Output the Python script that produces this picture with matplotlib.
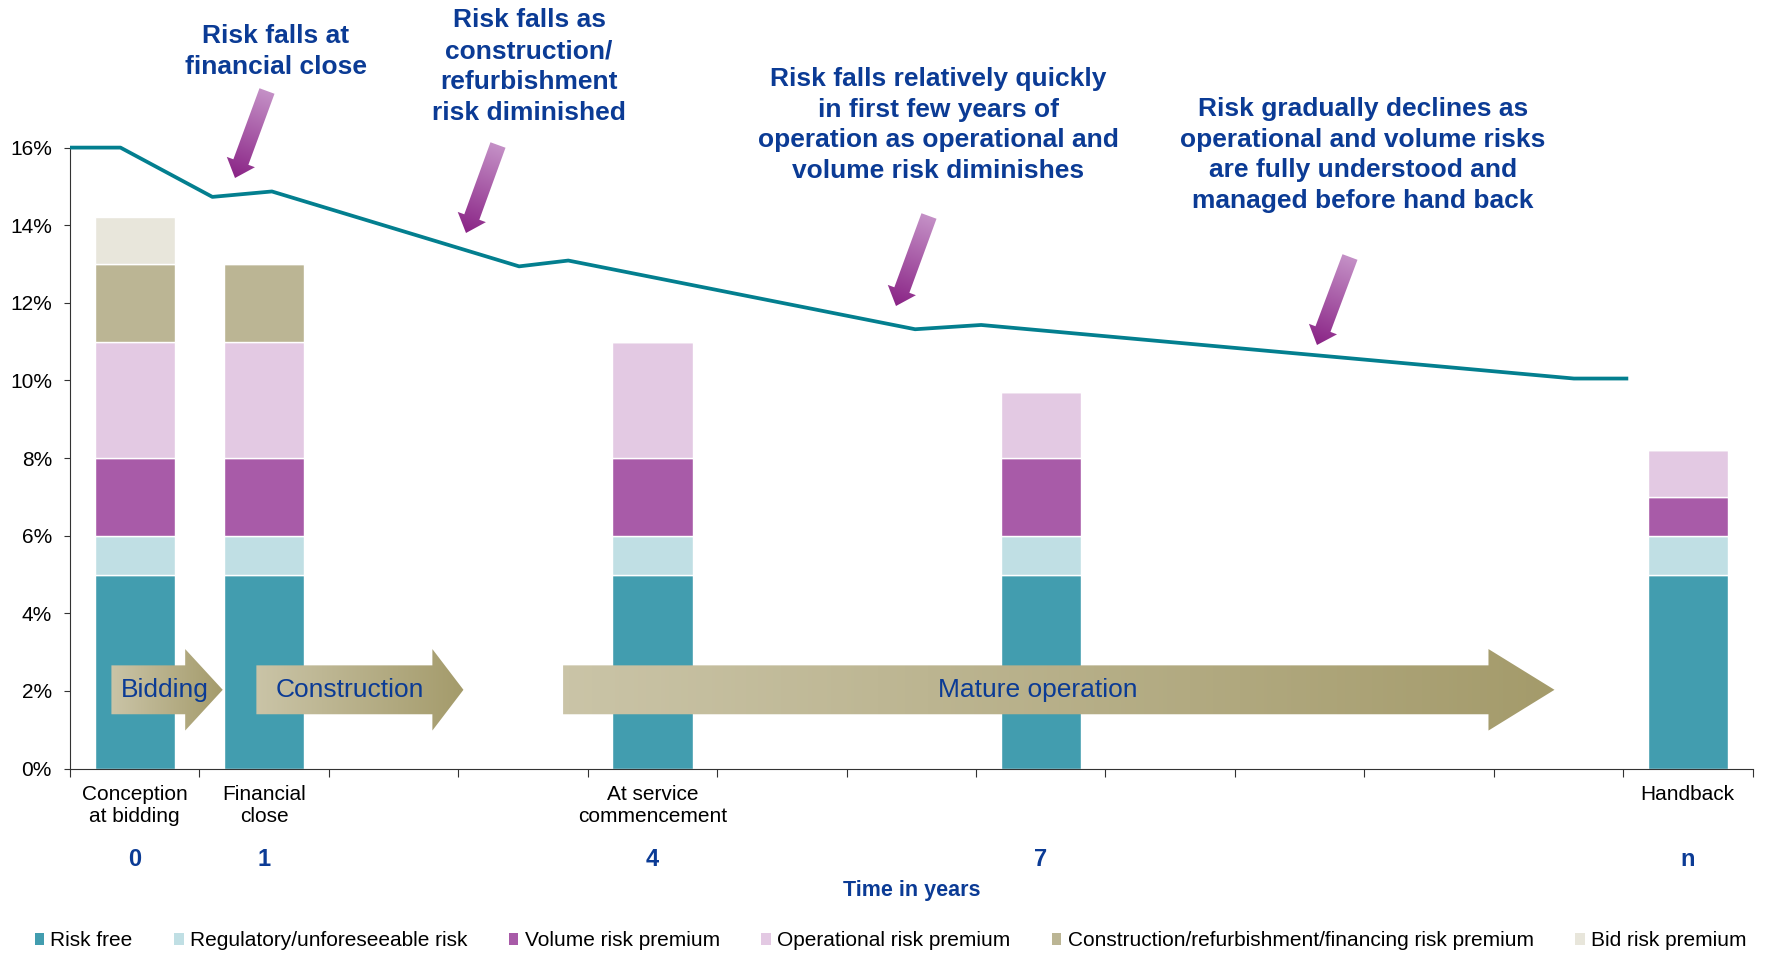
import numpy as np
import matplotlib.pyplot as plt
from matplotlib.patches import FancyArrow, Polygon, Patch
from matplotlib.colors import LinearSegmentedColormap

plt.rcParams['font.family'] = ['Liberation Sans', 'DejaVu Sans']

# Stacked components of the required return at selected points in time
bar_pos = [0, 1, 4, 7, 12]
risk_free = [5, 5, 5, 5, 5]
regulatory = [1, 1, 1, 1, 1]
volume = [2, 2, 2, 2, 1]
operational = [3, 3, 3, 1.7, 1.2]
construction = [2, 2, 0, 0, 0]
bid = [1.2, 0, 0, 0, 0]

series = [risk_free, regulatory, volume, operational, construction, bid]
series_names = ['Risk free', 'Regulatory/unforeseeable risk', 'Volume risk premium',
                'Operational risk premium', 'Construction/refurbishment/financing risk premium',
                'Bid risk premium']
series_colors = ['#429DAF', '#C0DFE4', '#A85BA8', '#E3C9E3', '#BBB594', '#E8E6DB']

cat_labels = ['Conception\nat bidding', 'Financial\nclose', 'At service\ncommencement', '', 'Handback']
year_labels = ['0', '1', '4', '7', 'n']

# Overall required return over the project life
line_x = [-0.5, -0.11, 0.6, 1.06, 2.97, 3.35, 6.03, 6.54, 11.12, 11.54]
line_y = [16, 16, 14.73, 14.87, 12.94, 13.09, 11.32, 11.43, 10.05, 10.05]

# Project phases
phase_names = ['Bidding', 'Construction', 'Mature operation']
phase_start = [-0.18, 0.94, 3.31]
phase_body_end = [0.39, 2.30, 10.46]
phase_tip = [0.68, 2.54, 10.97]
phase_text_x = [0.23, 1.66, 6.98]

notes = ['Risk falls at\nfinancial close',
         'Risk falls as\nconstruction/\nrefurbishment\nrisk diminished',
         'Risk falls relatively quickly\nin first few years of\noperation as operational and\nvolume risk diminishes',
         'Risk gradually declines as\noperational and volume risks\nare fully understood and\nmanaged before hand back']
note_xy = [(276, 51.5), (529, 66.5), (938, 125), (1363, 155)]
note_arrows = [((267, 91), (235, 178)), ((498, 145), (466, 233)),
               ((929, 216), (896, 306)), ((1350, 257), (1317, 345))]

blue = '#0B3B95'
W, H = 1767, 956
fig = plt.figure(figsize=(W / 100, H / 100), dpi=100)
ax = fig.add_axes([70 / W, 1 - 768.6 / H, (1752.5 - 70) / W, (768.6 - 147.6) / H])

bottom = np.zeros(len(bar_pos))
for vals, name, col in zip(series, series_names, series_colors):
    ax.bar(bar_pos, vals, bottom=bottom, width=0.62, color=col, edgecolor='white',
           linewidth=1, zorder=2)
    bottom += np.array(vals)

ax.plot(line_x, line_y, color='#037F8F', lw=2.7, zorder=4, solid_capstyle='butt',
        clip_on=False)

# phase arrows with a left-to-right khaki gradient
khaki = LinearSegmentedColormap.from_list('khaki', ['#CAC4A7', '#A49B6B'])
yc, hb, hh = 2.03, 0.63, 1.05
for name, x0, x1, xt, tx in zip(phase_names, phase_start, phase_body_end, phase_tip, phase_text_x):
    verts = [(x0, yc - hb), (x1, yc - hb), (x1, yc - hh), (xt, yc),
             (x1, yc + hh), (x1, yc + hb), (x0, yc + hb)]
    poly = Polygon(verts, closed=True, fc='none', ec='none', zorder=3)
    ax.add_patch(poly)
    grad = np.linspace(0, 1, 256).reshape(1, -1)
    img = ax.imshow(grad, cmap=khaki, extent=(x0, xt, yc - hh, yc + hh),
                    aspect='auto', zorder=3, interpolation='bilinear')
    img.set_clip_path(poly)
    ax.text(tx, yc, name, ha='center', va='center', fontsize=19, color=blue, zorder=5)

ax.set_xlim(-0.5, 12.5)
ax.set_ylim(0, 16)
ax.set_yticks(range(0, 17, 2))
ax.set_yticklabels([f'{v}%' for v in range(0, 17, 2)])
ax.set_xticks(np.arange(-0.5, 13, 1))
ax.set_xticklabels([])
ax.set_xticks(bar_pos, minor=True)
ax.set_xticklabels(cat_labels, minor=True)
ax.tick_params(axis='y', length=4, direction='out', pad=9, labelsize=15, color='#333333')
ax.tick_params(axis='x', which='major', length=6, direction='out', color='#333333')
ax.tick_params(axis='x', which='minor', length=0, pad=12, labelsize=15)
for s in ['top', 'right']:
    ax.spines[s].set_visible(False)
for s in ['left', 'bottom']:
    ax.spines[s].set_color('#333333')

xt = ax.get_xaxis_transform()
for p, lab in zip(bar_pos, year_labels):
    ax.text(p, -0.147, lab, transform=xt, ha='center', va='center', fontsize=17,
            fontweight='bold', color=blue)
ax.text(0.5, -0.196, 'Time in years', transform=ax.transAxes, ha='center', va='center',
        fontsize=15.5, fontweight='bold', color=blue)

# overlay in pixel coordinates for the callouts
ov = fig.add_axes([0, 0, 1, 1])
ov.axis('off')
purple = LinearSegmentedColormap.from_list('purple', ['#C490C6', '#8A2486'])
for (tail, tip) in note_arrows:
    dx, dy = tip[0] - tail[0], tip[1] - tail[1]
    L = np.hypot(dx, dy)
    arr = FancyArrow(tail[0], tail[1], dx, dy, width=16, head_width=30, head_length=17,
                     length_includes_head=True, fc='none', ec='none')
    ov.add_patch(arr)
    x0, x1 = min(tail[0], tip[0]) - 20, max(tail[0], tip[0]) + 20
    y0, y1 = min(tail[1], tip[1]) - 20, max(tail[1], tip[1]) + 20
    gx, gy = np.meshgrid(np.linspace(x0, x1, 120), np.linspace(y0, y1, 120))
    t = np.clip(((gx - tail[0]) * dx + (gy - tail[1]) * dy) / L ** 2, 0, 1)
    img = ov.imshow(t, cmap=purple, extent=(x0, x1, y0, y1), origin='lower',
                    aspect='auto', interpolation='bilinear')
    img.set_clip_path(arr)

for txt, (x, y) in zip(notes, note_xy):
    ov.text(x, y, txt, ha='center', va='center', fontsize=19, fontweight='bold',
            color=blue, linespacing=1.36)
ov.set_xlim(0, W)
ov.set_ylim(H, 0)

handles = [Patch(facecolor=c) for c in series_colors]
fig.legend(handles, series_names, loc='center', bbox_to_anchor=(0.504, 0.0157), ncol=6,
           frameon=False, fontsize=15, handlelength=0.45, handleheight=0.45,
           handletextpad=0.3, columnspacing=2.0)

fig.savefig('out.png', dpi=100)
